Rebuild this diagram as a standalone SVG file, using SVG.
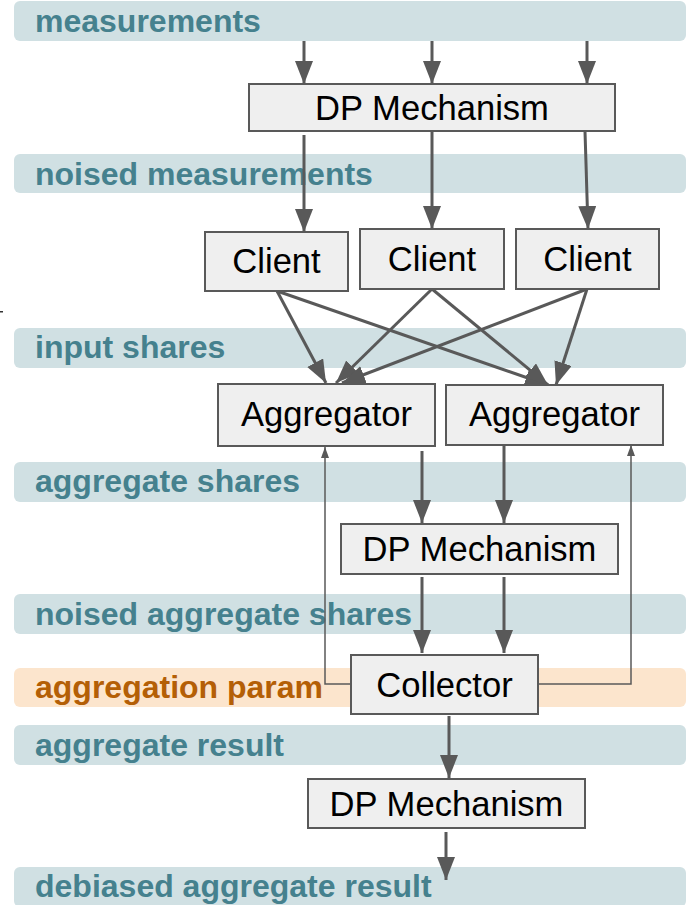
<svg xmlns="http://www.w3.org/2000/svg" width="687" height="905" viewBox="0 0 687 905">
<style>
.band{fill:#d0e0e3}
.bando{fill:#fce5cd}
.bl{font-family:"Liberation Sans",Arial,sans-serif;font-weight:bold;font-size:32px;fill:#45818e}
.blo{fill:#b45f06}
.node rect{fill:#efefef;stroke:#595959;stroke-width:2}
.node text{font-family:"Liberation Sans",Arial,sans-serif;font-size:34.6px;fill:#000;text-anchor:middle}
.c{fill:none;stroke:#595959;stroke-width:3;marker-end:url(#arr)}
.t{fill:none;stroke:#595959;stroke-width:1.5;marker-end:url(#arrs)}
</style>
<defs>
<marker id="arr" markerUnits="userSpaceOnUse" markerWidth="25" markerHeight="19" refX="23" refY="9" orient="auto" viewBox="0 0 25 19">
<path d="M0,0 L23,9 L0,18 z" fill="#595959"/>
</marker>
<marker id="arrs" markerUnits="userSpaceOnUse" markerWidth="12" markerHeight="10" refX="11" refY="4" orient="auto" viewBox="0 0 12 10">
<path d="M0,0 L11,4 L0,8 z" fill="#595959"/>
</marker>
</defs>
<rect width="687" height="905" fill="#fff"/>
<g id="bands">
<rect class="band" x="14" y="1" width="672" height="40" rx="6"/>
<text class="bl" x="35" y="32">measurements</text>
<rect class="band" x="14" y="154" width="672" height="39" rx="6"/>
<text class="bl" x="35" y="185">noised measurements</text>
<rect class="band" x="14" y="328" width="672" height="40" rx="6"/>
<text class="bl" x="35" y="358">input shares</text>
<rect class="band" x="14" y="462" width="672" height="40" rx="6"/>
<text class="bl" x="35" y="492">aggregate shares</text>
<rect class="band" x="14" y="594" width="672" height="40" rx="6"/>
<text class="bl" x="35" y="625">noised aggregate shares</text>
<rect class="bando" x="14" y="668" width="672" height="39" rx="6"/>
<text class="bl blo" x="35" y="698">aggregation param</text>
<rect class="band" x="14" y="725" width="672" height="40" rx="6"/>
<text class="bl" x="35" y="756">aggregate result</text>
<rect class="band" x="14" y="867" width="672" height="40" rx="6"/>
<text class="bl" x="35" y="897">debiased aggregate result</text>
<rect x="0" y="311" width="3" height="1.5" fill="#333"/>
</g>
<g id="connectors">
<line class="c" x1="304" y1="41" x2="304" y2="84"/>
<line class="c" x1="432" y1="41" x2="432" y2="84"/>
<line class="c" x1="587" y1="41" x2="587" y2="84"/>
<line class="c" x1="304" y1="135" x2="304" y2="232"/>
<line class="c" x1="432" y1="131" x2="432" y2="229"/>
<line class="c" x1="585" y1="131" x2="588" y2="229"/>
<line class="c" x1="277" y1="291" x2="326" y2="383"/>
<line class="c" x1="432" y1="289" x2="336" y2="383"/>
<line class="c" x1="587" y1="289" x2="342" y2="383"/>
<line class="c" x1="277" y1="291" x2="548" y2="385"/>
<line class="c" x1="432" y1="289" x2="548" y2="385"/>
<line class="c" x1="587" y1="289" x2="556" y2="385"/>
<line class="c" x1="422" y1="451" x2="422" y2="523"/>
<line class="c" x1="504" y1="441" x2="504" y2="523"/>
<line class="c" x1="422" y1="577" x2="422" y2="653"/>
<line class="c" x1="504" y1="577" x2="504" y2="653"/>
<line class="c" x1="449" y1="716" x2="449" y2="778"/>
<line class="c" x1="446" y1="832" x2="446" y2="880"/>
<polyline class="t" points="350,684 325,684 325,447"/>
<polyline class="t" points="538,684 631,684 631,445"/>
</g>
<g id="dp1" class="node"><rect x="249" y="84" width="366" height="47"/><text x="432" y="120">DP Mechanism</text></g>
<g id="client1" class="node"><rect x="205" y="232" width="143" height="59"/><text x="276.5" y="273">Client</text></g>
<g id="client2" class="node"><rect x="360" y="229" width="144" height="60"/><text x="432" y="271">Client</text></g>
<g id="client3" class="node"><rect x="516" y="229" width="143" height="60"/><text x="587.5" y="271">Client</text></g>
<g id="agg1" class="node"><rect x="218" y="384" width="217" height="62"/><text x="326.5" y="426">Aggregator</text></g>
<g id="agg2" class="node"><rect x="446" y="385" width="217" height="60"/><text x="554.5" y="426">Aggregator</text></g>
<g id="dp2" class="node"><rect x="341" y="524" width="277" height="50"/><text x="479.5" y="561">DP Mechanism</text></g>
<g id="collector" class="node"><rect x="351" y="655" width="187" height="59"/><text x="444.5" y="697">Collector</text></g>
<g id="dp3" class="node"><rect x="308" y="779" width="277" height="49"/><text x="446.5" y="816">DP Mechanism</text></g>
</svg>
